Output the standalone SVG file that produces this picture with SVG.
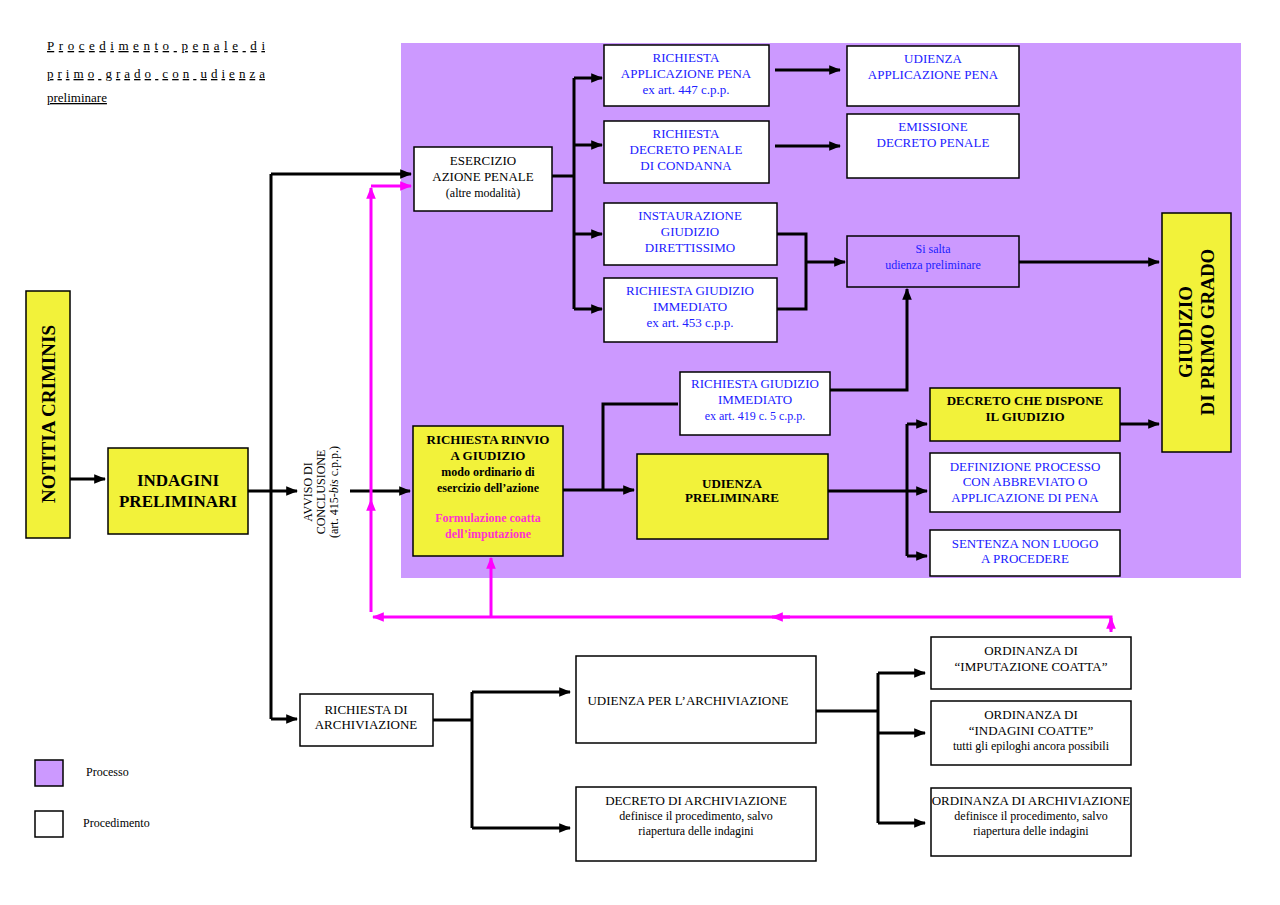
<svg xmlns="http://www.w3.org/2000/svg" width="1280" height="905" viewBox="0 0 1280 905">
<style>
.b{stroke:#000;stroke-width:1.5}
.w{fill:#fff}
.y{fill:#f2f23a}
text{font-family:"Liberation Serif",serif;font-size:13px;text-anchor:middle}
.bl{fill:#2020ff}
.bd{font-weight:bold}
.c{fill:none;stroke:#000;stroke-width:3}
.m{fill:none;stroke:#ff00ff;stroke-width:3}
</style>
<defs>
<marker id="a" viewBox="0 0 10 10" refX="9" refY="5" markerWidth="4" markerHeight="4" orient="auto"><path d="M0,1 L10,5 L0,9 z" fill="#000"/></marker>
<marker id="p" viewBox="0 0 10 10" refX="9" refY="5" markerWidth="4" markerHeight="4" orient="auto"><path d="M0,1 L10,5 L0,9 z" fill="#ff00ff"/></marker>
</defs>
<rect width="1280" height="905" fill="#fff"/>
<g id="title" style="font-family:'DejaVu Sans',sans-serif;font-size:16px;text-decoration:underline">
<text x="47" y="50" style="text-anchor:start" textLength="218" lengthAdjust="spacing">Procedimento penale di</text>
<text x="47" y="78" style="text-anchor:start" textLength="218" lengthAdjust="spacing">primo grado con udienza</text>
<text x="47" y="102" style="text-anchor:start">preliminare</text>
</g>
<rect id="processo-bg" x="401" y="43" width="840" height="535" fill="#cc99ff"/>
<g id="connectors">
<path class="c" d="M70,479 H105" marker-end="url(#a)"/>
<path class="c" d="M248,491 H271 M271,174 V719"/>
<path class="c" d="M271,174 H411" marker-end="url(#a)"/>
<path class="c" d="M271,491 H297" marker-end="url(#a)"/>
<path class="c" d="M350,491 H410" marker-end="url(#a)"/>
<path class="c" d="M271,719 H297" marker-end="url(#a)"/>
<path class="c" d="M552,176 H574 M574,78 V309"/>
<path class="c" d="M574,78 H602" marker-end="url(#a)"/>
<path class="c" d="M574,145 H602" marker-end="url(#a)"/>
<path class="c" d="M574,234 H602" marker-end="url(#a)"/>
<path class="c" d="M574,309 H602" marker-end="url(#a)"/>
<path class="c" d="M775,70 H840" marker-end="url(#a)"/>
<path class="c" d="M775,146 H840" marker-end="url(#a)"/>
<path class="c" d="M777,234 H806 V309 H777"/>
<path class="c" d="M806,262 H845" marker-end="url(#a)"/>
<path class="c" d="M1019,262 H1159" marker-end="url(#a)"/>
<path class="c" d="M563,490 H634" marker-end="url(#a)"/>
<path class="c" d="M603,490 V404 H678"/>
<path class="c" d="M830,390 H907 V289" marker-end="url(#a)"/>
<path class="c" d="M828,491 H927" marker-end="url(#a)"/>
<path class="c" d="M907,424 V556"/>
<path class="c" d="M907,424 H927" marker-end="url(#a)"/>
<path class="c" d="M907,556 H927" marker-end="url(#a)"/>
<path class="c" d="M1120,424 H1159" marker-end="url(#a)"/>
<path class="c" d="M433,720 H472 M472,692 V828"/>
<path class="c" d="M472,692 H570" marker-end="url(#a)"/>
<path class="c" d="M472,828 H570" marker-end="url(#a)"/>
<path class="c" d="M816,711 H878 M878,673 V823"/>
<path class="c" d="M878,673 H925" marker-end="url(#a)"/>
<path class="c" d="M878,733 H925" marker-end="url(#a)"/>
<path class="c" d="M878,823 H925" marker-end="url(#a)"/>
<path class="m" d="M1111,630 V617 H373" marker-end="url(#p)"/>
<path class="m" d="M1111,632 V618" marker-end="url(#p)"/>
<path class="m" d="M790,617 H772" marker-end="url(#p)"/>
<path class="m" d="M371,612 V500" marker-end="url(#p)"/>
<path class="m" d="M371,500 V188" marker-end="url(#p)"/>
<path class="m" d="M371,186 H411" marker-end="url(#p)"/>
<path class="m" d="M491,617 V558" marker-end="url(#p)"/>
</g>
<g id="notitia"><rect class="b y" x="26" y="291" width="44" height="247"/><text class="bd" transform="translate(55,414) rotate(-90)" style="font-size:19px">NOTITIA CRIMINIS</text></g>
<g id="indagini"><rect class="b y" x="108" y="448" width="140" height="86"/><text class="bd" x="178" y="486" style="font-size:17px">INDAGINI</text><text class="bd" x="178" y="507" style="font-size:17px">PRELIMINARI</text></g>
<g id="avviso" transform="translate(323,492) rotate(-90)"><text x="0" y="-11" style="font-size:12px">AVVISO DI</text><text x="0" y="2" style="font-size:12px">CONCLUSIONE</text><text x="0" y="15" style="font-size:12px">(art. 415-<tspan font-style="italic">bis</tspan> c.p.p.)</text></g>
<g id="esercizio"><rect class="b w" x="414" y="147" width="138" height="64"/><text x="483" y="165">ESERCIZIO</text><text x="483" y="181">AZIONE  PENALE</text><text x="483" y="197" style="font-size:12px">(altre modalità)</text></g>
<g id="appl-pena"><rect class="b w" x="604" y="45" width="165" height="61"/><text class="bl" x="686" y="62">RICHIESTA</text><text class="bl" x="686" y="78">APPLICAZIONE PENA</text><text class="bl" x="686" y="94">ex art. 447 c.p.p.</text></g>
<g id="decreto-penale"><rect class="b w" x="604" y="121" width="165" height="62"/><text class="bl" x="686" y="138">RICHIESTA</text><text class="bl" x="686" y="154">DECRETO PENALE</text><text class="bl" x="686" y="170">DI CONDANNA</text></g>
<g id="direttissimo"><rect class="b w" x="604" y="203" width="173" height="62"/><text class="bl" x="690" y="220">INSTAURAZIONE</text><text class="bl" x="690" y="236">GIUDIZIO</text><text class="bl" x="690" y="252">DIRETTISSIMO</text></g>
<g id="immediato453"><rect class="b w" x="604" y="278" width="173" height="64"/><text class="bl" x="690" y="295">RICHIESTA  GIUDIZIO</text><text class="bl" x="690" y="311">IMMEDIATO</text><text class="bl" x="690" y="327">ex art. 453 c.p.p.</text></g>
<g id="udienza-appl"><rect class="b w" x="847" y="46" width="172" height="60"/><text class="bl" x="933" y="63">UDIENZA</text><text class="bl" x="933" y="79">APPLICAZIONE  PENA</text></g>
<g id="emissione"><rect class="b w" x="847" y="114" width="172" height="64"/><text class="bl" x="933" y="131">EMISSIONE</text><text class="bl" x="933" y="147">DECRETO PENALE</text></g>
<g id="si-salta"><rect class="b" fill="#cc99ff" x="847" y="236" width="172" height="51"/><text class="bl" x="933" y="253" style="font-size:12px">Si salta</text><text class="bl" x="933" y="269" style="font-size:12px">udienza preliminare</text></g>
<g id="giudizio-primo"><rect class="b y" x="1162" y="213" width="69" height="239"/><g transform="translate(1197,332) rotate(-90)"><text class="bd" x="0" y="-5" style="font-size:19px">GIUDIZIO</text><text class="bd" x="0" y="17" style="font-size:19px">DI PRIMO GRADO</text></g></g>
<g id="rinvio"><rect class="b y" x="413" y="426" width="150" height="130"/><text class="bd" x="488" y="444">RICHIESTA RINVIO</text><text class="bd" x="488" y="460">A GIUDIZIO</text><text class="bd" x="488" y="476" style="font-size:12px">modo ordinario di</text><text class="bd" x="488" y="492" style="font-size:12px">esercizio dell’azione</text><text class="bd" x="488" y="522" fill="#ff33cc" style="font-size:12px">Formulazione coatta</text><text class="bd" x="488" y="538" fill="#ff33cc" style="font-size:12px">dell’imputazione</text></g>
<g id="immediato419"><rect class="b w" x="680" y="372" width="150" height="63"/><text class="bl" x="755" y="388">RICHIESTA GIUDIZIO</text><text class="bl" x="755" y="404">IMMEDIATO</text><text class="bl" x="755" y="420" style="font-size:12px">ex art. 419 c. 5 c.p.p.</text></g>
<g id="udienza-prel"><rect class="b y" x="637" y="454" width="191" height="85"/><text class="bd" x="732" y="488">UDIENZA</text><text class="bd" x="732" y="502">PRELIMINARE</text></g>
<g id="decreto-giudizio"><rect class="b y" x="930" y="388" width="190" height="53"/><text class="bd" x="1025" y="405">DECRETO CHE DISPONE</text><text class="bd" x="1025" y="421">IL GIUDIZIO</text></g>
<g id="definizione"><rect class="b w" x="930" y="453" width="190" height="59"/><text class="bl" x="1025" y="471">DEFINIZIONE  PROCESSO</text><text class="bl" x="1025" y="486">CON ABBREVIATO O</text><text class="bl" x="1025" y="502">APPLICAZIONE DI PENA</text></g>
<g id="sentenza"><rect class="b w" x="930" y="530" width="190" height="46"/><text class="bl" x="1025" y="548">SENTENZA NON LUOGO</text><text class="bl" x="1025" y="563">A PROCEDERE</text></g>
<g id="rich-arch"><rect class="b w" x="300" y="694" width="133" height="52"/><text x="366" y="714">RICHIESTA DI</text><text x="366" y="729">ARCHIVIAZIONE</text></g>
<g id="udienza-arch"><rect class="b w" x="576" y="656" width="240" height="87"/><text x="688" y="705">UDIENZA PER L’ARCHIVIAZIONE</text></g>
<g id="decreto-arch"><rect class="b w" x="576" y="787" width="240" height="74"/><text x="696" y="805">DECRETO DI ARCHIVIAZIONE</text><text x="696" y="820" style="font-size:12px">definisce il procedimento, salvo</text><text x="696" y="835" style="font-size:12px">riapertura  delle indagini</text></g>
<g id="ord-imput"><rect class="b w" x="931" y="637" width="200" height="52"/><text x="1031" y="655">ORDINANZA DI</text><text x="1031" y="671">“IMPUTAZIONE COATTA”</text></g>
<g id="ord-indagini"><rect class="b w" x="931" y="701" width="200" height="64"/><text x="1031" y="719">ORDINANZA DI</text><text x="1031" y="735">“INDAGINI COATTE”</text><text x="1031" y="750" style="font-size:12px">tutti gli epiloghi ancora possibili</text></g>
<g id="ord-arch"><rect class="b w" x="931" y="788" width="200" height="68"/><text x="1031" y="805">ORDINANZA DI ARCHIVIAZIONE</text><text x="1031" y="820" style="font-size:12px">definisce il procedimento, salvo</text><text x="1031" y="835" style="font-size:12px">riapertura  delle indagini</text></g>
<g id="legend"><rect class="b" fill="#cc99ff" x="35" y="760" width="28" height="26"/><text x="86" y="776" style="text-anchor:start;font-size:12px">Processo</text><rect class="b w" x="35" y="811" width="28" height="26"/><text x="83" y="827" style="text-anchor:start;font-size:12px">Procedimento</text></g>
</svg>
